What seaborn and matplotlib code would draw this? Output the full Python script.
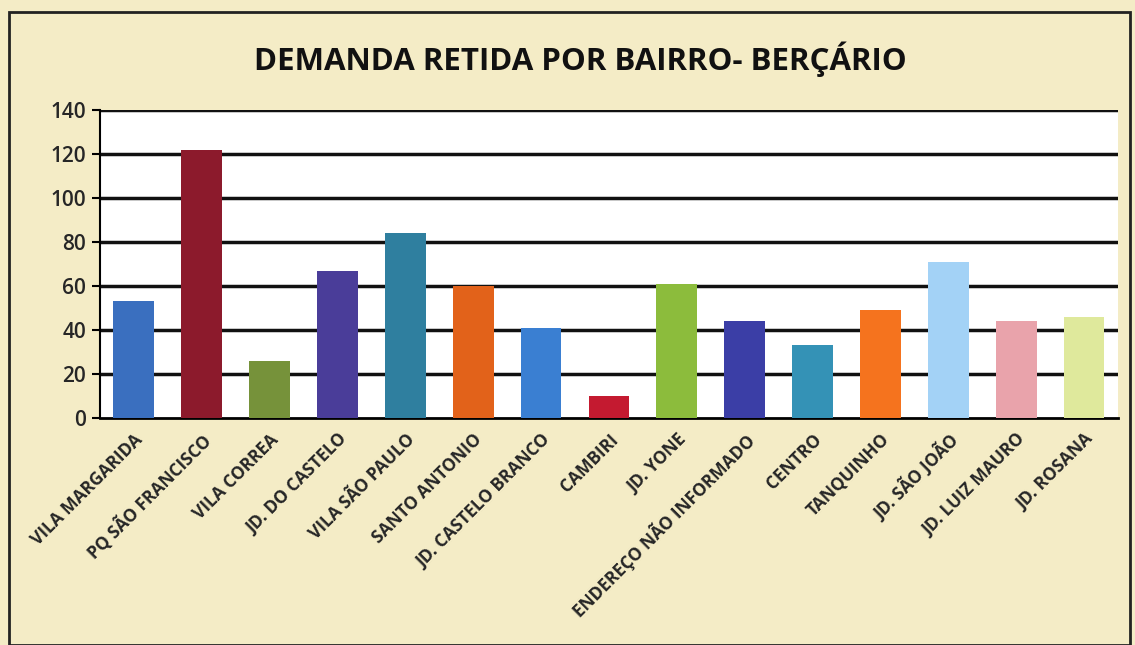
# Demanda retida por bairro - berçário (bar chart)

import pandas as pd
import matplotlib.pyplot as plt
import matplotlib.transforms as mtransforms
import seaborn as sns
from matplotlib.patches import Rectangle

# Data
bairros = ['VILA MARGARIDA', 'PQ SÃO FRANCISCO', 'VILA CORREA', 'JD. DO CASTELO',
           'VILA SÃO PAULO', 'SANTO ANTONIO', 'JD. CASTELO BRANCO', 'CAMBIRI',
           'JD. YONE', 'ENDEREÇO NÃO INFORMADO', 'CENTRO', 'TANQUINHO',
           'JD. SÃO JOÃO', 'JD. LUIZ MAURO', 'JD. ROSANA']
demanda = [53, 122, 26, 67, 84, 60, 41, 10, 61, 44, 33, 49, 71, 44, 46]
cores = ['#3a6fbf', '#8c1a2c', '#76923a', '#4a3d99', '#2f7f9f', '#e2621a',
         '#3a7fd2', '#c41a30', '#8cbc3c', '#3b3ea6', '#3492b6', '#f5731e',
         '#a3d2f6', '#e9a3ab', '#dfe99c']
y_ticks = [0, 20, 40, 60, 80, 100, 120, 140]

df = pd.DataFrame({'bairro': bairros, 'demanda': demanda})

sns.set_style('white')
plt.rcParams['font.family'] = ['Open Sans', 'DejaVu Sans']

fig = plt.figure(figsize=(11.35, 6.45), dpi=100, facecolor='#f4ecc6')
ax = fig.add_axes([0.088, 0.352, 0.897, 0.477])

sns.barplot(data=df, x='bairro', y='demanda', hue='bairro', palette=cores,
            width=0.6, legend=False, ax=ax, saturation=1, zorder=3, linewidth=0)

ax.set_ylim(0, 140)
ax.set_xlim(-0.5, len(bairros) - 0.5)
ax.set_yticks(y_ticks)
ax.set_yticklabels([str(v) for v in y_ticks], fontsize=15, fontweight='semibold')
for v in y_ticks[1:]:
    ax.axhline(v, color='#111111', lw=2.5, zorder=2)

ax.set_xticks(range(len(bairros)))
ax.set_xticklabels(bairros, rotation=45, ha='right', rotation_mode='anchor',
                   fontsize=12.5, fontweight='bold')
# nudge labels a little to the right, like the original
offset = mtransforms.ScaledTranslation(7 / 100, 0, fig.dpi_scale_trans)
for lbl in ax.get_xticklabels():
    lbl.set_transform(lbl.get_transform() + offset)
ax.set_xticks([i - 0.5 for i in range(len(bairros) + 1)], minor=True)
ax.tick_params(axis='x', which='major', length=0, pad=9)
ax.tick_params(axis='x', which='minor', length=6, width=1.5, color='black', direction='out')
ax.tick_params(axis='y', length=6, width=1.5, color='black', direction='out', left=True, pad=4)

ax.set_xlabel('')
ax.set_ylabel('')
for s in ['top', 'right']:
    ax.spines[s].set_visible(False)
ax.spines['left'].set_color('black')
ax.spines['left'].set_linewidth(1.5)
ax.spines['bottom'].set_color('black')
ax.spines['bottom'].set_linewidth(2)

fig.text(0.511, 0.908, 'DEMANDA RETIDA POR BAIRRO- BERÇÁRIO', ha='center', va='center',
         fontsize=22.5, fontweight='bold', color='#111111')

fig.patches.append(Rectangle((0.008, 0.0), 0.988, 0.982, transform=fig.transFigure,
                             fill=False, edgecolor='#222222', lw=2))

fig.savefig('out.png', dpi=100, facecolor=fig.get_facecolor())
